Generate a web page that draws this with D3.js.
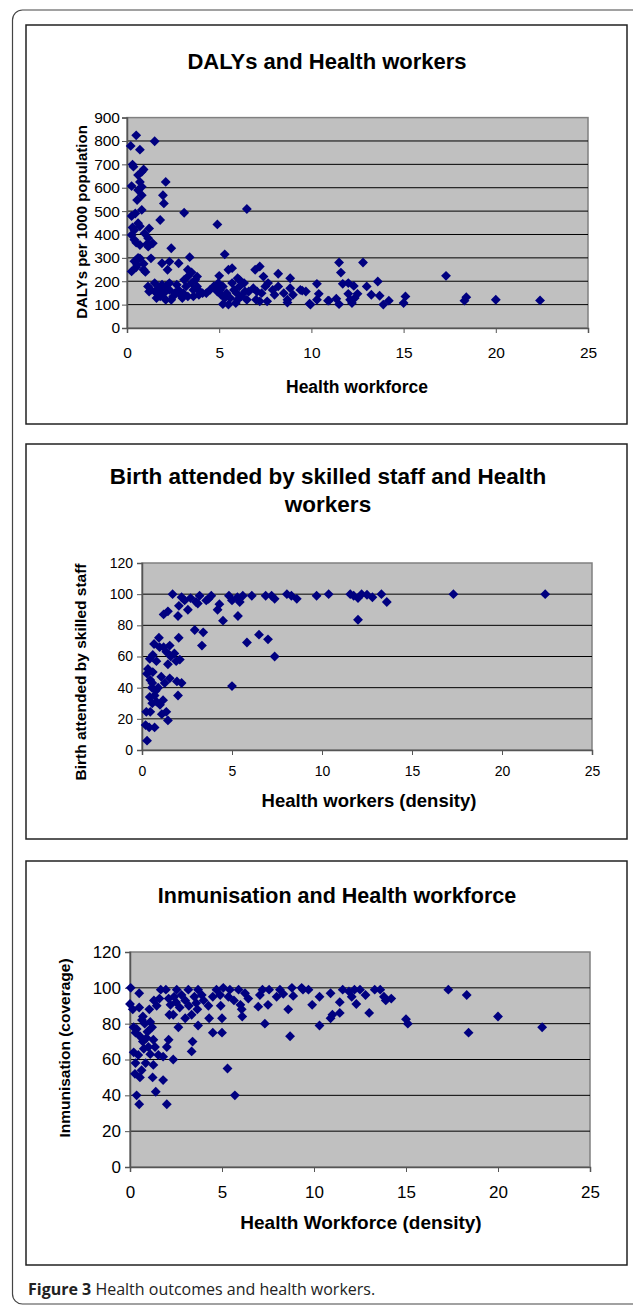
<!DOCTYPE html>
<html>
<head>
<meta charset="utf-8">
<script src="https://cdn.jsdelivr.net/npm/d3@7"></script>
<style>
  body { margin: 0; background: #fff; }
  svg text { font-family: "Liberation Sans", Arial, sans-serif; }
</style>
</head>
<body>
<div id="fig"></div>
<script>
// data: [health workers density, outcome]
var dalysPoints = [
  [0.5,824],[1.5,799],[0.2,779],[0.7,763],[0.3,699],[0.35,690],[0.9,678],[0.8,668],[0.6,654],[0.7,625],
  [0.25,607],[0.8,604],[0.6,590],[0.8,568],[0.55,547],[2.1,625],[1.95,568],[2.0,533],[0.8,505],[0.25,479],
  [0.45,490],[1.8,462],[3.1,493],[4.9,443],[6.5,509],[0.6,448],[0.7,435],[0.4,419],[1.2,426],[0.95,405],
  [0.25,398],[0.4,377],[1.15,384],[0.7,355],[1.15,348],[1.4,362],[2.4,341],[1.3,298],[0.7,298],[0.25,242],
  [0.9,249],[0.55,270],[1.9,277],[2.8,277],[3.4,303],[2.3,284],[2.2,249],[3.3,249],[3.5,238],[3.8,220],
  [5.3,315],[5.7,256],[5.5,249],[5.0,223],[6.95,249],[7.2,263],[7.4,220],[8.2,232],[8.85,213],[6.1,206],
  [10.3,189],[11.5,280],[12.8,280],[11.6,237],[17.3,223],[11.7,189],[12.0,192],[12.3,180],[13.6,199],[13.0,178],
  [9.5,160],[10.4,146],[12.0,146],[12.5,146],[13.25,142],[13.7,138],[15.1,135],[18.4,132],[18.3,117],[20.0,121],
  [22.4,118],[15.0,107],[14.2,117],[13.9,100],[9.9,104],[10.3,121],[10.9,117],[11.35,125],[11.5,102],[12.1,121],
  [12.2,107],[12.35,128],[5.2,102],[5.5,100],[5.9,107],[9.95,100],[8.7,109],[7.2,114],[7.6,114],[8.0,142],
  [10.95,117],[9.4,163],[9.7,156],[1.14,178],[1.3,163],[1.5,192],[1.6,149],[1.8,163],[1.8,135],[2.0,149],
  [1.9,185],[2.1,178],[2.3,192],[2.3,163],[2.1,121],[2.6,149],[2.5,135],[2.8,163],[2.9,142],[3.05,149],
  [3.2,178],[3.1,206],[3.3,220],[3.5,192],[3.6,163],[3.3,135],[3.6,135],[3.8,178],[3.95,156],[3.7,206],
  [4.3,149],[4.5,163],[4.7,178],[4.9,156],[4.95,192],[5.2,178],[5.4,149],[5.6,128],[5.8,163],[5.95,149],
  [6.1,178],[6.2,135],[6.4,156],[6.5,121],[5.7,192],[5.3,128],[5.05,163],[6.0,213],[6.35,192],[6.85,170],
  [7.05,156],[7.3,149],[7.5,178],[7.65,192],[7.9,163],[8.2,178],[8.5,149],[8.85,170],[9.0,142],[1.2,156],
  [1.6,128],[2.4,121],[1.7,170],[2.7,185],[3.0,128],[3.9,142],[4.1,149],[6.6,156],[5.1,142],[7.0,121],
  [8.7,121],[6.0,121],[1.0,240],[0.5,260],[0.4,285],[0.6,300],[0.9,275],[1.1,360],[0.5,365],[0.3,430]
];
var birthPoints = [
  [0.28,6],[0.2,16],[0.4,14.5],[0.7,14.5],[0.24,24.5],[0.46,24.5],[0.57,30],[0.8,31],[1.0,29],[1.17,32],
  [1.35,24.5],[1.44,19],[0.43,34],[0.76,38],[0.28,49],[0.33,52],[0.6,50],[0.46,45],[0.57,43],[0.9,40],
  [1.07,47],[1.26,43],[1.54,46],[2.0,35],[1.94,44],[2.2,43],[0.43,58.5],[0.6,61],[0.8,57],[0.67,68],
  [0.94,72],[0.98,66],[1.35,63],[1.44,55],[1.54,67],[1.8,62],[1.9,57],[2.04,72],[1.2,87],[1.44,89],
  [1.7,100],[2.0,86],[2.05,92.5],[2.2,98],[2.37,96],[2.55,90],[2.7,97.5],[2.93,77],[3.0,95],[3.2,99],
  [3.4,75.5],[3.33,67],[3.57,96],[3.85,99],[4.2,90],[4.3,93.6],[4.5,83],[5.0,41],[4.83,99],[5.0,96],
  [5.33,86],[5.43,95],[5.6,99],[5.83,69],[6.1,99],[6.5,74],[6.87,99],[7.0,71],[7.2,99],[7.37,97],
  [7.37,60],[8.05,100],[8.3,99],[8.6,97],[9.7,99],[10.37,100],[11.57,100],[11.76,99],[12.0,97.5],[12.0,83.6],
  [12.2,100],[12.5,99.6],[12.8,98],[13.3,100],[13.6,95],[17.3,100],[22.4,100],[0.55,40],[0.7,35],[1.1,23],
  [2.1,58],[1.2,66],[1.6,60],[3.1,94],[3.7,97],[5.3,98]
];
var immunPoints = [
  [0.04,100],[0.0,91],[0.5,97],[0.5,89],[0.7,84],[0.8,80],[0.2,78],[0.36,77],[0.3,75],[0.54,73],
  [0.7,70],[0.2,64],[0.45,62.5],[0.27,52],[0.54,50],[0.63,54],[0.36,40],[0.5,35],[1.1,81],[1.2,78],
  [0.95,75.5],[1.27,71],[1.0,67],[1.1,63],[1.36,67],[1.54,62.5],[1.27,57],[1.23,50],[1.4,42],[1.8,48.5],
  [2.0,35],[1.8,61.6],[2.0,67],[2.1,71],[2.35,60],[1.45,90],[1.6,94],[1.67,99],[1.95,99],[2.1,94],
  [2.2,90.5],[2.14,85],[2.35,85],[2.54,99],[2.5,92],[2.63,78],[2.7,89],[3.0,93],[3.0,83],[3.17,99],
  [3.35,64.5],[3.4,70],[3.35,85],[3.5,95],[3.6,91.5],[3.7,99],[3.66,88],[3.7,79],[3.9,96],[4.26,90],
  [4.3,83],[4.5,75],[4.5,95],[4.7,99],[4.9,96],[4.93,90],[5.0,83],[5.0,75],[5.07,100],[5.3,55],
  [5.35,95],[5.43,99],[5.65,93],[5.7,40],[5.9,99],[6.0,90.5],[6.07,88],[6.1,84],[6.25,97],[6.43,94],
  [6.97,89.5],[7.06,96],[7.2,99],[7.33,80],[7.5,90.5],[7.56,99],[7.97,95],[8.15,99],[8.33,96.6],[8.6,88],
  [8.7,73],[8.8,100],[8.87,95.5],[9.33,100],[9.7,99],[9.4,99],[9.9,90.5],[10.3,95],[10.3,79],[10.9,97],
  [10.9,83],[11.0,85],[11.4,92],[11.4,86],[11.56,99],[11.9,98],[12.05,95],[12.2,99],[12.3,91],[12.5,99],
  [12.8,96],[13.0,86],[13.3,99],[13.6,99],[13.8,95],[13.9,93],[14.2,94],[15.0,82.5],[15.1,80],[17.3,99],
  [18.3,96],[18.4,75],[20.0,84],[22.4,78],[0.15,88],[0.65,82],[0.9,72],[0.75,66],[0.3,58],[0.85,58],
  [1.05,88],[1.3,93],[2.8,96],[3.2,90],[4.0,93],[2.4,95]
];
var xTicks = [0, 5, 10, 15, 20, 25];
var dalysTicks = [0, 100, 200, 300, 400, 500, 600, 700, 800, 900];
var pctTicks = [0, 20, 40, 60, 80, 100, 120];

var svg = d3.select("#fig").append("svg")
  .attr("width", 633).attr("height", 1308);

// outer figure frame
svg.append("rect")
  .attr("x", 12.5).attr("y", 10).attr("width", 640).attr("height", 1294)
  .attr("rx", 10).attr("fill", "none").attr("stroke", "#444").attr("stroke-width", 1.2);

function diamond(g, x, y, pts) {
  var sym = d3.symbol().type(d3.symbolDiamond2).size(62);
  g.selectAll("path.pt").data(pts).enter().append("path")
    .attr("class", "pt")
    .attr("transform", function(d) { return "translate(" + x(d[0]) + "," + y(d[1]) + ")"; })
    .attr("d", sym)
    .attr("fill", "#000080");
}

function drawChart(c) {
  var g = svg.append("g");

  g.append("rect")
    .attr("x", c.box[0]).attr("y", c.box[1]).attr("width", c.box[2]).attr("height", c.box[3])
    .attr("fill", "#fff").attr("stroke", "#222").attr("stroke-width", 1.5);

  var x = d3.scaleLinear().domain([0, 25]).range([c.left, c.right]);
  var y = d3.scaleLinear().domain([0, c.ymax]).range([c.bottom, c.top]);

  // plot area
  g.append("rect")
    .attr("x", c.left).attr("y", c.top)
    .attr("width", c.right - c.left).attr("height", c.bottom - c.top)
    .attr("fill", "#c0c0c0").attr("stroke", "#808080").attr("stroke-width", 1.5);

  // gridlines
  g.selectAll("line.grid").data(c.yTicks.slice(1, -1)).enter().append("line")
    .attr("class", "grid")
    .attr("x1", c.left).attr("x2", c.right)
    .attr("y1", function(d) { return y(d); }).attr("y2", function(d) { return y(d); })
    .attr("stroke", "#000").attr("stroke-width", 1);

  // axes
  var ya = g.append("g").attr("transform", "translate(" + c.left + ",0)")
    .call(d3.axisLeft(y).tickValues(c.yTicks).tickSize(5).tickPadding(c.yPad));
  var xa = g.append("g").attr("transform", "translate(0," + c.bottom + ")")
    .call(d3.axisBottom(x).tickValues(xTicks).tickSize(5).tickPadding(c.xPad));
  [ya, xa].forEach(function(a) {
    a.select(".domain").attr("stroke", "#555").attr("stroke-width", 1.5);
    a.selectAll(".tick line").attr("stroke", "#555");
    a.selectAll("text").attr("font-size", c.tickFont)
      .attr("font-family", "'Liberation Sans', Arial, sans-serif").attr("fill", "#000");
  });

  diamond(g, x, y, c.points);

  // chart title
  c.title.forEach(function(t, i) {
    g.append("text")
      .attr("x", c.titleX).attr("y", c.titleY + i * 28)
      .attr("text-anchor", "middle").attr("font-size", c.titleFont).attr("font-weight", "bold")
      .text(t);
  });

  g.append("text")
    .attr("x", c.xLabelX).attr("y", c.xLabelY)
    .attr("text-anchor", "middle").attr("font-size", c.xLabelFont).attr("font-weight", "bold")
    .text(c.xLabel);

  g.append("text")
    .attr("transform", "translate(" + c.yLabelX + "," + c.yLabelY + ") rotate(-90)")
    .attr("text-anchor", "middle").attr("font-size", c.yLabelFont).attr("font-weight", "bold")
    .text(c.yLabel);
}

drawChart({
  box: [26, 25, 601, 399],
  left: 127, right: 588, top: 117.6, bottom: 328, ymax: 900, yTicks: dalysTicks,
  points: dalysPoints, tickFont: 15.5, xPad: 14, yPad: 2,
  title: ["DALYs and Health workers"], titleX: 327, titleY: 69, titleFont: 22,
  xLabel: "Health workforce", xLabelX: 357, xLabelY: 393, xLabelFont: 17.5,
  yLabel: "DALYs per 1000 population", yLabelX: 87, yLabelY: 222, yLabelFont: 15
});

drawChart({
  box: [26, 444, 601, 395],
  left: 142, right: 592, top: 563, bottom: 750, ymax: 120, yTicks: pctTicks,
  points: birthPoints, tickFont: 14, xPad: 11, yPad: 4,
  title: ["Birth attended by skilled staff and Health", "workers"], titleX: 328, titleY: 484, titleFont: 22.5,
  xLabel: "Health workers (density)", xLabelX: 369, xLabelY: 807, xLabelFont: 18.5,
  yLabel: "Birth attended by skilled staff", yLabelX: 86, yLabelY: 672, yLabelFont: 15.5
});

drawChart({
  box: [26, 861, 601, 404],
  left: 130, right: 590, top: 952, bottom: 1167, ymax: 120, yTicks: pctTicks,
  points: immunPoints, tickFont: 17, xPad: 14, yPad: 4,
  title: ["Inmunisation and Health workforce"], titleX: 337, titleY: 903, titleFont: 21.5,
  xLabel: "Health Workforce (density)", xLabelX: 361, xLabelY: 1229, xLabelFont: 19,
  yLabel: "Inmunisation (coverage)", yLabelX: 70, yLabelY: 1048, yLabelFont: 15.5
});

// caption
var cap = svg.append("text").attr("x", 28).attr("y", 1295)
  .attr("font-size", 16).attr("fill", "#222")
  .style("font-family", "'Open Sans', 'Noto Sans', sans-serif");
cap.append("tspan").attr("font-weight", "bold").text("Figure 3");
cap.append("tspan").text(" Health outcomes and health workers.");
</script>
</body>
</html>
